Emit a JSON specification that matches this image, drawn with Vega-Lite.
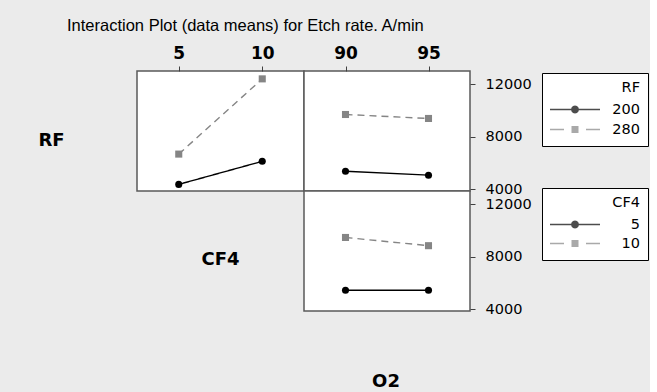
{
  "$schema": "https://vega.github.io/schema/vega-lite/v6.json",
  "background": "#ebebeb",
  "padding": {"left": 0, "top": 17, "right": 0, "bottom": 0},
  "title": {"text": "Interaction Plot (data means) for Etch rate. A/min", "anchor": "start", "dx": 67, "font": "Liberation Sans", "fontSize": 16.5, "fontWeight": "normal", "color": "black", "offset": 9},
  "datasets": {
    "rf_cf4": [
      {"CF4": 5, "RF": 200, "EtchRate": 4355},
      {"CF4": 10, "RF": 200, "EtchRate": 6113},
      {"CF4": 5, "RF": 280, "EtchRate": 6664},
      {"CF4": 10, "RF": 280, "EtchRate": 12400}
    ],
    "rf_o2": [
      {"O2": 90, "RF": 200, "EtchRate": 5358},
      {"O2": 95, "RF": 200, "EtchRate": 5057},
      {"O2": 90, "RF": 280, "EtchRate": 9683},
      {"O2": 95, "RF": 280, "EtchRate": 9381}
    ],
    "cf4_o2": [
      {"O2": 90, "CF4": 5, "EtchRate": 5434},
      {"O2": 95, "CF4": 5, "EtchRate": 5434},
      {"O2": 90, "CF4": 10, "EtchRate": 9457},
      {"O2": 95, "CF4": 10, "EtchRate": 8830}
    ]
  },
  "columns": 3,
  "spacing": 0,
  "bounds": "flush",
  "resolve": {"scale": {"color": "independent", "shape": "independent", "strokeDash": "independent"}},
  "concat": [
    {
      "width": 137, "height": 120,
      "view": {"stroke": null, "fill": "transparent"},
      "data": {"values": [{"label": "RF"}]},
      "mark": {"type": "text", "font": "DejaVu Sans", "fontWeight": "bold", "fontSize": 18, "dx": -17, "dy": 10, "baseline": "middle", "align": "center", "color": "black"},
      "encoding": {"text": {"field": "label"}}
    },
    {
      "width": 167, "height": 120,
      "view": {"stroke": "#5a5a5a", "strokeWidth": 1.5, "fill": "white"},
      "data": {"name": "rf_cf4"},
      "encoding": {
        "x": {"field": "CF4", "type": "quantitative", "scale": {"domain": [2.5, 12.5], "nice": false, "zero": false},
              "axis": {"orient": "top", "values": [5, 10], "title": null, "domain": false, "grid": false, "tickSize": 5, "tickColor": "#404040", "labelFont": "DejaVu Sans", "labelFontWeight": "bold", "labelFontSize": 17, "labelColor": "black", "labelPadding": 4, "format": "d"}},
        "y": {"field": "EtchRate", "type": "quantitative", "scale": {"domain": [3850, 13000], "nice": false, "zero": false}, "axis": null}
      },
      "layer": [
        {"mark": {"type": "line", "strokeWidth": 1.4}, "encoding": {
          "color": {"field": "RF", "type": "nominal", "scale": {"domain": [200, 280], "range": ["black", "#858585"]}, "legend": null},
          "strokeDash": {"field": "RF", "type": "nominal", "scale": {"domain": [200, 280], "range": [[1, 0], [7, 5]]}, "legend": null}}},
        {"transform": [{"filter": "datum.RF == 200"}], "mark": {"type": "point", "shape": "circle", "filled": true, "opacity": 1, "size": 50, "color": "black"}},
        {"transform": [{"filter": "datum.RF == 280"}], "mark": {"type": "point", "shape": "square", "filled": true, "opacity": 1, "size": 50, "color": "#858585"}}
      ]
    },
    {
      "width": 166, "height": 120,
      "view": {"stroke": "#5a5a5a", "strokeWidth": 1.5, "fill": "white"},
      "data": {"name": "rf_o2"},
      "encoding": {
        "x": {"field": "O2", "type": "quantitative", "scale": {"domain": [87.5, 97.5], "nice": false, "zero": false},
              "axis": {"orient": "top", "values": [90, 95], "title": null, "domain": false, "grid": false, "tickSize": 5, "tickColor": "#404040", "labelFont": "DejaVu Sans", "labelFontWeight": "bold", "labelFontSize": 17, "labelColor": "black", "labelPadding": 4, "format": "d"}},
        "y": {"field": "EtchRate", "type": "quantitative", "scale": {"domain": [3850, 13000], "nice": false, "zero": false},
              "axis": {"orient": "right", "values": [4000, 8000, 12000], "title": null, "domain": false, "grid": false, "tickSize": 5, "tickColor": "#404040", "labelFont": "DejaVu Sans", "labelFontSize": 14.5, "labelColor": "black", "labelPadding": 10, "format": "d", "labelFlush": false, "labelOverlap": false}}
      },
      "layer": [
        {"transform": [{"filter": "datum.RF == 200"}], "mark": {"type": "line", "strokeWidth": 1.4, "color": "black"}},
        {"transform": [{"filter": "datum.RF == 280"}], "mark": {"type": "line", "strokeWidth": 1.4, "color": "#858585", "strokeDash": [7, 5]}},
        {"transform": [{"filter": "datum.RF == 200"}], "mark": {"type": "point", "shape": "circle", "filled": true, "opacity": 1, "size": 50, "color": "black"}},
        {"transform": [{"filter": "datum.RF == 280"}], "mark": {"type": "point", "shape": "square", "filled": true, "opacity": 1, "size": 50, "color": "#858585"}},
        {"transform": [{"filter": "false"}], "mark": {"type": "point", "filled": true}, "encoding": {
          "color": {"field": "RF", "type": "nominal", "scale": {"domain": [200, 280], "range": ["black", "#858585"]},
                    "legend": {"orient": "none", "legendX": 238, "legendY": 2, "title": "RF", "titleAnchor": "end", "titleFont": "DejaVu Sans", "titleFontSize": 14.5, "titleFontWeight": "normal", "titleColor": "black", "titlePadding": 6, "labelFont": "DejaVu Sans", "labelFontSize": 14.5, "labelColor": "black", "labelAlign": "right", "labelOffset": 40, "clipHeight": 16, "rowPadding": 4, "padding": 8, "strokeColor": "black", "fillColor": "white", "symbolSize": 2500, "symbolStrokeWidth": 0}},
          "shape": {"field": "RF", "type": "nominal", "scale": {"domain": [200, 280], "range": ["M-1,-0.03L1,-0.03L1,0.03L-1,0.03ZM0.16,0L0.139,0.08L0.08,0.139L0,0.16L-0.08,0.139L-0.139,0.08L-0.16,0L-0.139,-0.08L-0.08,-0.139L0,-0.16L0.08,-0.139L0.139,-0.08Z", "M-1,-0.03L-0.44,-0.03L-0.44,0.03L-1,0.03ZM0.44,-0.03L1,-0.03L1,0.03L0.44,0.03ZM-0.14,-0.14L0.14,-0.14L0.14,0.14L-0.14,0.14Z"]}, "legend": null}
        }}
      ]
    },
    {
      "width": 137, "height": 120,
      "view": {"stroke": null, "fill": "transparent"},
      "data": {"values": [{"label": ""}]},
      "mark": {"type": "text"},
      "encoding": {"text": {"field": "label"}}
    },
    {
      "width": 167, "height": 120,
      "view": {"stroke": null, "fill": "transparent"},
      "data": {"values": [{"label": "CF4"}]},
      "mark": {"type": "text", "font": "DejaVu Sans", "fontWeight": "bold", "fontSize": 18, "dx": 0, "dy": 9, "baseline": "middle", "align": "center", "color": "black"},
      "encoding": {"text": {"field": "label"}}
    },
    {
      "width": 166, "height": 120,
      "view": {"stroke": "#5a5a5a", "strokeWidth": 1.5, "fill": "white"},
      "data": {"name": "cf4_o2"},
      "encoding": {
        "x": {"field": "O2", "type": "quantitative", "scale": {"domain": [87.5, 97.5], "nice": false, "zero": false}, "axis": null},
        "y": {"field": "EtchRate", "type": "quantitative", "scale": {"domain": [3850, 13000], "nice": false, "zero": false},
              "axis": {"orient": "right", "values": [4000, 8000, 12000], "title": null, "domain": false, "grid": false, "tickSize": 5, "tickColor": "#404040", "labelFont": "DejaVu Sans", "labelFontSize": 14.5, "labelColor": "black", "labelPadding": 10, "format": "d", "labelFlush": false, "labelOverlap": false}}
      },
      "layer": [
        {"transform": [{"filter": "datum.CF4 == 5"}], "mark": {"type": "line", "strokeWidth": 1.4, "color": "black"}},
        {"transform": [{"filter": "datum.CF4 == 10"}], "mark": {"type": "line", "strokeWidth": 1.4, "color": "#858585", "strokeDash": [7, 5]}},
        {"transform": [{"filter": "datum.CF4 == 5"}], "mark": {"type": "point", "shape": "circle", "filled": true, "opacity": 1, "size": 50, "color": "black"}},
        {"transform": [{"filter": "datum.CF4 == 10"}], "mark": {"type": "point", "shape": "square", "filled": true, "opacity": 1, "size": 50, "color": "#858585"}},
        {"transform": [{"filter": "false"}], "mark": {"type": "point", "filled": true}, "encoding": {
          "color": {"field": "CF4", "type": "nominal", "scale": {"domain": [5, 10], "range": ["black", "#858585"]},
                    "legend": {"orient": "none", "legendX": 238, "legendY": -3, "title": "CF4", "titleAnchor": "end", "titleFont": "DejaVu Sans", "titleFontSize": 14.5, "titleFontWeight": "normal", "titleColor": "black", "titlePadding": 6, "labelFont": "DejaVu Sans", "labelFontSize": 14.5, "labelColor": "black", "labelAlign": "right", "labelOffset": 40, "clipHeight": 16, "rowPadding": 3, "padding": 8, "strokeColor": "black", "fillColor": "white", "symbolSize": 2500, "symbolStrokeWidth": 0}},
          "shape": {"field": "CF4", "type": "nominal", "scale": {"domain": [5, 10], "range": ["M-1,-0.03L1,-0.03L1,0.03L-1,0.03ZM0.16,0L0.139,0.08L0.08,0.139L0,0.16L-0.08,0.139L-0.139,0.08L-0.16,0L-0.139,-0.08L-0.08,-0.139L0,-0.16L0.08,-0.139L0.139,-0.08Z", "M-1,-0.03L-0.44,-0.03L-0.44,0.03L-1,0.03ZM0.44,-0.03L1,-0.03L1,0.03L0.44,0.03ZM-0.14,-0.14L0.14,-0.14L0.14,0.14L-0.14,0.14Z"]}, "legend": null}
        }}
      ]
    },
    {
      "width": 137, "height": 82,
      "view": {"stroke": null, "fill": "transparent"},
      "data": {"values": [{"label": ""}]},
      "mark": {"type": "text"},
      "encoding": {"text": {"field": "label"}}
    },
    {
      "width": 167, "height": 82,
      "view": {"stroke": null, "fill": "transparent"},
      "data": {"values": [{"label": ""}]},
      "mark": {"type": "text"},
      "encoding": {"text": {"field": "label"}}
    },
    {
      "width": 166, "height": 82,
      "view": {"stroke": null, "fill": "transparent"},
      "data": {"values": [{"label": "O2"}]},
      "mark": {"type": "text", "font": "DejaVu Sans", "fontWeight": "bold", "fontSize": 18, "dx": -1, "dy": 30, "baseline": "middle", "align": "center", "color": "black"},
      "encoding": {"text": {"field": "label"}}
    }
  ],
  "config": {"concat": {"spacing": 0}}
}
